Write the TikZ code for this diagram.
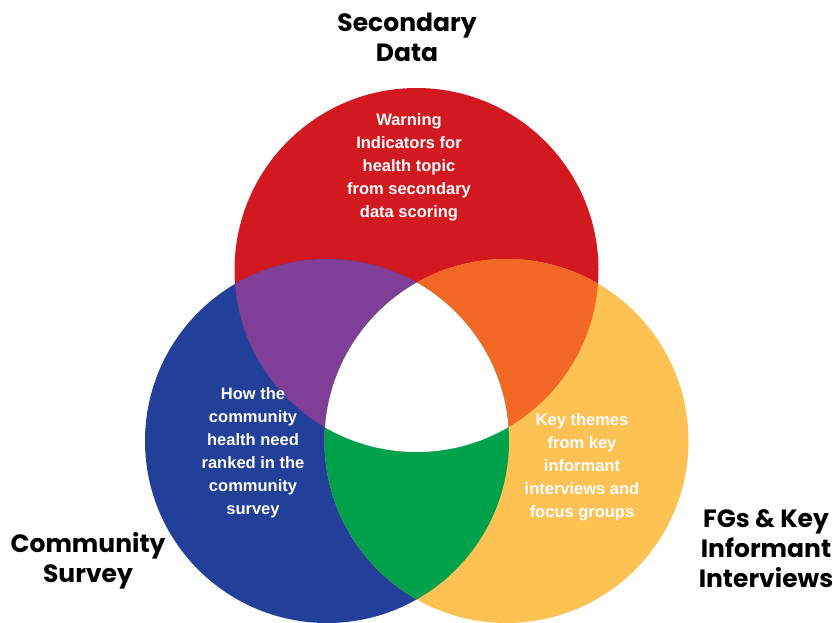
\documentclass[tikz,border=0pt]{standalone}
\usepackage{fontspec}
\setmainfont{Liberation Sans}
\newfontfamily\headfont{Poppins}
\definecolor{cred}{HTML}{D31920}
\definecolor{cblue}{HTML}{22409A}
\definecolor{cyellow}{HTML}{FEC254}
\definecolor{cpurple}{HTML}{7F3F98}
\definecolor{corange}{HTML}{F26824}
\definecolor{cgreen}{HTML}{00A14B}
\tikzset{
  inner/.style={text=white, font=\fontsize{16.5}{23}\selectfont\bfseries, align=center, inner sep=0pt},
  head/.style={text=black, font=\headfont\fontsize{25}{30}\selectfont\bfseries, align=center, inner sep=0pt}
}
\begin{document}
\begin{tikzpicture}[x=1pt,y=-1pt]
\useasboundingbox (0,0) rectangle (833,622);
\coordinate (R) at (416.5,270);
\coordinate (B) at (327,441);
\coordinate (Y) at (506.5,441);
\fill[cred] (R) circle (182pt);
\fill[cblue] (B) circle (182pt);
\fill[cyellow] (Y) circle (182pt);
\begin{scope}
  \clip (R) circle (182pt);
  \fill[cpurple] (B) circle (182pt);
  \fill[corange] (Y) circle (182pt);
\end{scope}
\begin{scope}
  \clip (B) circle (182pt);
  \fill[cgreen] (Y) circle (182pt);
\end{scope}
\begin{scope}
  \clip (R) circle (182pt);
  \clip (B) circle (182pt);
  \fill[white] (Y) circle (182pt);
\end{scope}
\node[inner] (warn) at (409,167) {Warning\\Indicators for\\health topic\\from secondary\\data scoring};
\node[inner] (how) at (253,453) {How the\\community\\health need\\ranked in the\\community\\survey};
\node[inner] (key) at (582,467) {Key themes\\from key\\informant\\interviews and\\focus groups};
\node[head] (sec) at (407,37) {Secondary\\Data};
\node[head] (cs) at (88,561) {Community\\Survey};
\node[head] (fg) at (766,548.5) {FGs \& Key\\Informant\\Interviews};
\end{tikzpicture}
\end{document}
